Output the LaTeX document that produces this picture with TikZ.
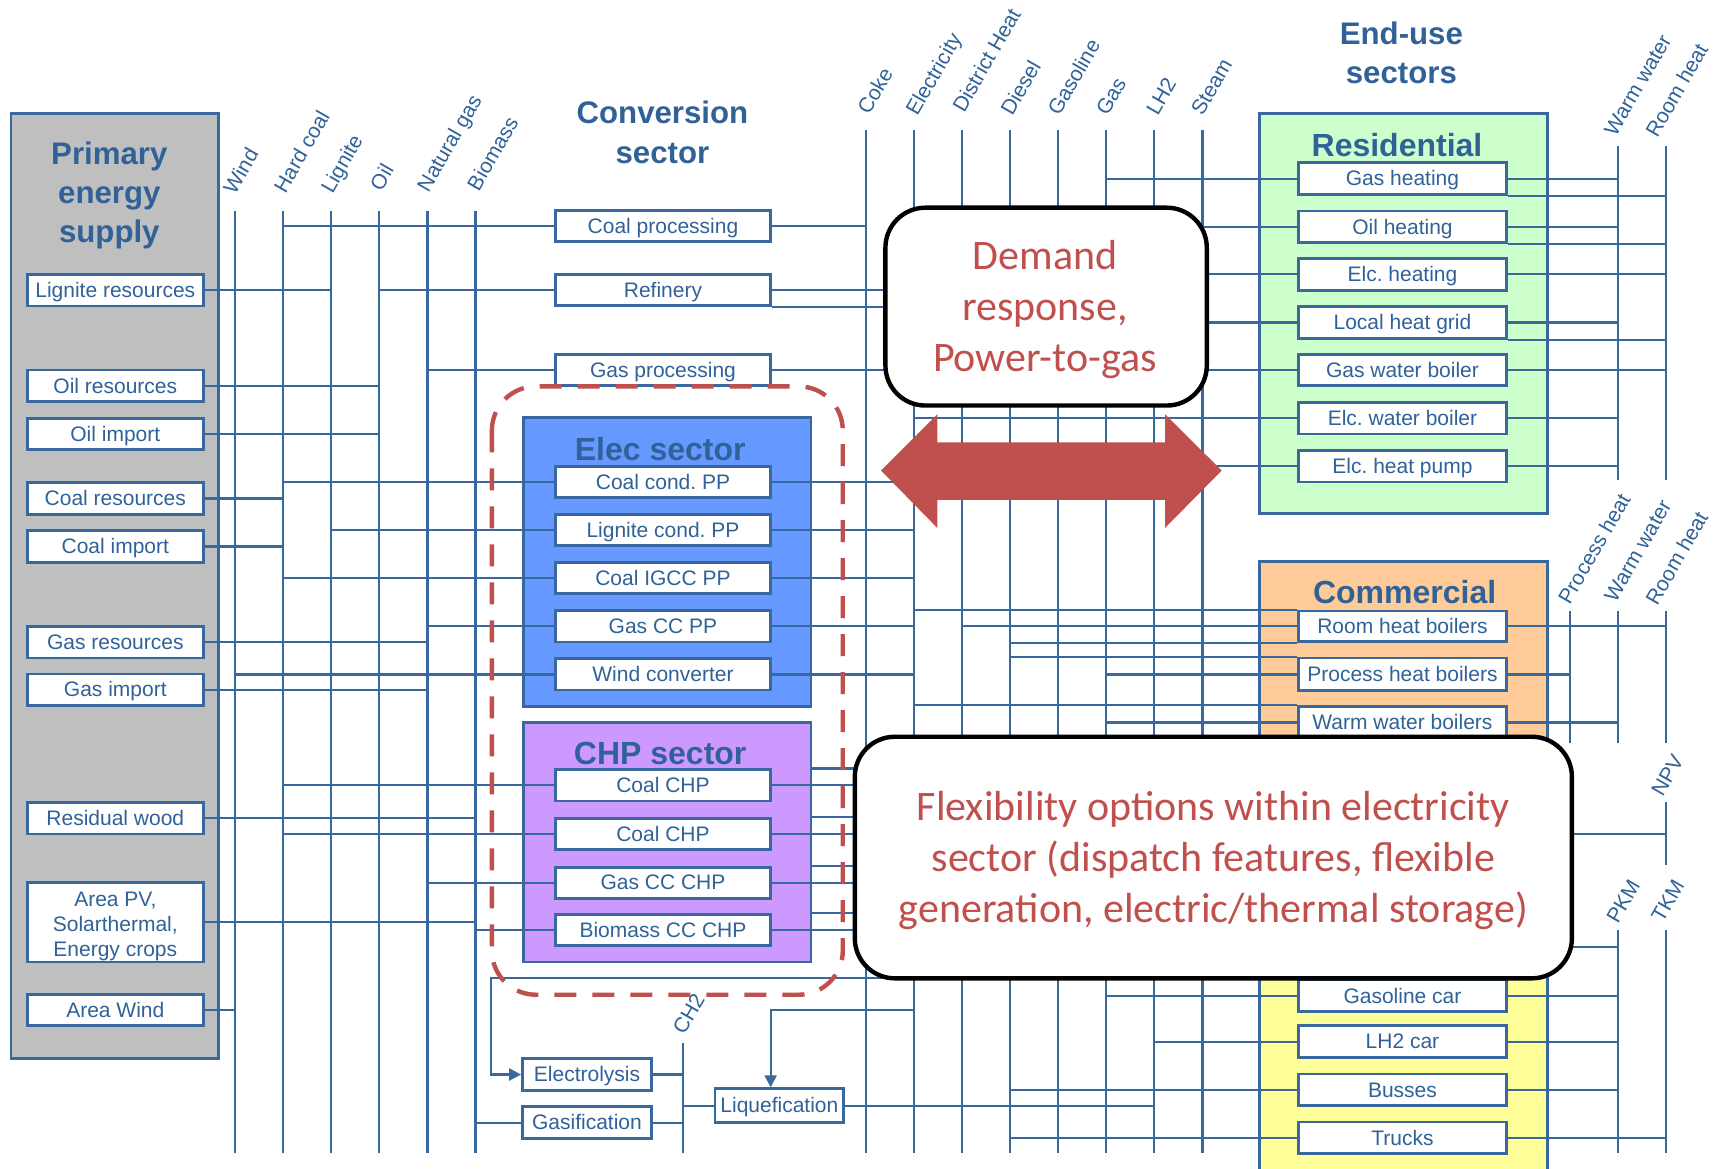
\documentclass[tikz,border=0pt]{standalone}
\usepackage{fontspec}
\setmainfont{Liberation Sans}
\newfontfamily\calib{Carlito}
\usetikzlibrary{arrows.meta,fit}
\definecolor{lblue}{RGB}{56,104,158}
\definecolor{tblue}{RGB}{48,98,152}
\definecolor{grayfill}{RGB}{191,191,191}
\definecolor{elecfill}{RGB}{102,153,255}
\definecolor{chpfill}{RGB}{204,153,255}
\definecolor{resfill}{RGB}{204,255,204}
\definecolor{comfill}{RGB}{255,204,153}
\definecolor{trafill}{RGB}{255,255,153}
\definecolor{callred}{RGB}{192,80,77}
\newcommand\pxu{0.54656pt}
\newcommand\lblfont{\fontsize{10.5}{12.6}\selectfont}
\newcommand\ttlfont{\fontsize{15.6}{19.6}\selectfont\bfseries}
\newcommand\sectfont{\fontsize{16}{19}\selectfont\bfseries}
\newcommand\calltfont{\calib\fontsize{21}{25.5}\selectfont}
\pgfdeclarelayer{bg}\pgfdeclarelayer{ln}\pgfdeclarelayer{fg}
\pgfsetlayers{bg,ln,main,fg}
\begin{document}
\begin{tikzpicture}[x=0.54656pt,y=-0.54656pt,
  ln/.style={draw=lblue,line width=1.1pt},
  region/.style={draw=lblue,line width=1.4pt,inner sep=0pt},
  bx0/.style={draw=lblue,line width=1.4pt,fill=white,text=tblue,font=\lblfont,inner sep=0pt,align=center},
  bx/.style={bx0,text height=0.8em,text depth=0.08em},
  cbox/.style={bx,minimum width=197*\pxu,minimum height=28.5*\pxu},
  pbox/.style={bx,minimum width=161*\pxu,minimum height=29*\pxu},
  ebox/.style={bx,minimum width=190*\pxu,minimum height=29*\pxu},
  sbox/.style={bx,minimum width=118*\pxu,minimum height=29*\pxu},
  ttl/.style={text=tblue,font=\ttlfont,align=center,inner sep=0pt},
  sttl/.style={text=tblue,font=\sectfont,inner sep=0pt},
  rlbl/.style={text=tblue,font=\lblfont,rotate=60,anchor=base west,inner sep=0pt},
  callout/.style={draw=black,line width=2.2pt,fill=white,rounded corners=20pt,inner sep=0pt},
  calltxt/.style={text=callred,font=\calltfont,align=center,inner sep=0pt},
  arr/.style={ln,-{Triangle[length=6pt,width=6pt]}}
]
\useasboundingbox (0,0) rectangle (1568,1069);

% ---------- regions ----------
\begin{pgfonlayer}{bg}
\node[region,fill=grayfill,fit={(10,104)(200,968)}] (primR) {};
\node[region,fill=elecfill,fit={(479,382)(742,646)}] (elecR) {};
\node[region,fill=chpfill,fit={(479,661)(742,880)}] (chpR) {};
\node[region,fill=resfill,fit={(1152,104)(1416,470)}] (resR) {};
\node[region,fill=comfill,fit={(1152,514)(1416,700)}] (comR) {};
\node[region,fill=trafill,fit={(1152,710)(1416,1095)}] (traR) {};
\end{pgfonlayer}

% ---------- titles ----------
\node[ttl] (tPrim) at (100,179) {Primary\\energy\\supply};
\node[ttl] (tConv) at (606,121) {Conversion\\sector};
\node[ttl] (tEnd) at (1282,48) {End-use\\sectors};
\node[sttl] (tElec) at (604,411) {Elec sector};
\node[sttl] (tCHP) at (604,689) {CHP sector};
\node[sttl] (tRes) at (1278,133) {Residential};
\node[sttl] (tCom) at (1285,542) {Commercial};

% ---------- boxes ----------
\node[pbox] (pLig) at (105.5,265.5) {Lignite resources};
\node[pbox] (pOilR) at (105.5,353) {Oil resources};
\node[pbox] (pOilI) at (105.5,397) {Oil import};
\node[pbox] (pCoalR) at (105.5,456) {Coal resources};
\node[pbox] (pCoalI) at (105.5,500) {Coal import};
\node[pbox] (pGasR) at (105.5,587.5) {Gas resources};
\node[pbox] (pGasI) at (105.5,631) {Gas import};
\node[pbox] (pWood) at (105.5,748.5) {Residual wood};
\node[bx0,minimum width=161*\pxu,minimum height=73*\pxu] (pPV) at (105.5,843.5) {};
\node[text=tblue,font=\lblfont,align=center,inner sep=0pt] (pPVt) at (105.5,847.5) {Area PV,\\Solarthermal,\\Energy crops};
\node[pbox] (pWindA) at (105.5,924) {Area Wind};

\node[cbox] (cCoal) at (606.5,207) {Coal processing};
\node[cbox] (cRef) at (606.5,265.5) {Refinery};
\node[cbox] (cGasP) at (606.5,338.5) {Gas processing};

\node[cbox] (eCoal) at (606.5,441) {Coal cond.\ PP};
\node[cbox] (eLig) at (606.5,485) {Lignite cond.\ PP};
\node[cbox] (eIGCC) at (606.5,529) {Coal IGCC PP};
\node[cbox] (eGas) at (606.5,573) {Gas CC PP};
\node[cbox] (eWind) at (606.5,617) {Wind converter};

\node[cbox] (hCoalA) at (606.5,718.5) {Coal CHP};
\node[cbox] (hCoalB) at (606.5,763) {Coal CHP};
\node[cbox] (hGas) at (606.5,807.5) {Gas CC CHP};
\node[cbox] (hBio) at (606.5,851) {Biomass CC CHP};

\node[sbox] (lyse) at (537,983) {Electrolysis};
\node[sbox] (gasif) at (537,1027) {Gasification};
\node[sbox,minimum height=31*\pxu] (liq) at (713,1011.5) {Liquefication};

\node[ebox] (rGasH) at (1283,163.5) {Gas heating};
\node[ebox] (rOilH) at (1283,207.5) {Oil heating};
\node[ebox] (rElcH) at (1283,251) {Elc.\ heating};
\node[ebox] (rLHG) at (1283,295) {Local heat grid};
\node[ebox] (rGWB) at (1283,338.5) {Gas water boiler};
\node[ebox] (rEWB) at (1283,382.5) {Elc.\ water boiler};
\node[ebox] (rEHP) at (1283,426.5) {Elc.\ heat pump};

\node[ebox,minimum height=28*\pxu] (mRHB) at (1283,573) {Room heat boilers};
\node[ebox,minimum height=30*\pxu] (mPHB) at (1283,617) {Process heat boilers};
\node[ebox] (mWWB) at (1283,661) {Warm water boilers};

\node[ebox] (tGas) at (1283,911) {Gasoline car};
\node[ebox] (tLH2) at (1283,953) {LH2 car};
\node[ebox] (tBus) at (1283,997) {Busses};
\node[ebox] (tTruck) at (1283,1041) {Trucks};

% ---------- bus coordinates ----------
\coordinate (bWind) at (215,193);
\coordinate (bHard) at (259,193);
\coordinate (bLig) at (303,193);
\coordinate (bOil) at (347,193);
\coordinate (bGas) at (391,193);
\coordinate (bBio) at (435,193);
\coordinate (bCoke) at (792,119);
\coordinate (bElec) at (836,119);
\coordinate (bDH) at (880,119);
\coordinate (bDiesel) at (924,119);
\coordinate (bGasoline) at (968,119);
\coordinate (bGasM) at (1012,119);
\coordinate (bLH2) at (1056,119);
\coordinate (bSteam) at (1100,119);
\coordinate (bCH2) at (625,954);
\coordinate (vPKM) at (1480,851);
\coordinate (vTKM) at (1524,851);
\coordinate (busBot) at (0,1055);
\coordinate (rWW) at (1480,134);
\coordinate (rRH) at (1524,134);
\coordinate (rBot) at (0,439);
\coordinate (mPH) at (1436,559);
\coordinate (mWW) at (1480,559);
\coordinate (mRH) at (1524,559);
\coordinate (mBot) at (0,680);
\coordinate (vNPV) at (1524,734);
\coordinate (npvBot) at (0,791);
\coordinate (hidDiesel) at (1378,866);
\coordinate (hidNPV) at (1378,763);
\coordinate (elyTurn) at (449,895);
\coordinate (liqTurn) at (705,924);

% ---------- bus labels ----------
\node[rlbl] (lWind) at (215,179) {Wind};
\node[rlbl] (lHard) at (261,178) {Hard coal};
\node[rlbl] (lLig) at (304,178) {Lignite};
\node[rlbl] (lOil) at (349,176) {Oil};
\node[rlbl] (lNG) at (392,177) {Natural gas};
\node[rlbl] (lBio) at (438,176) {Biomass};
\node[rlbl] (lCoke) at (795,106) {Coke};
\node[rlbl] (lElec) at (839,107) {Electricity};
\node[rlbl] (lDH) at (882,104) {District Heat};
\node[rlbl] (lDiesel) at (926,107) {Diesel};
\node[rlbl] (lGasoline) at (969,107) {Gasoline};
\node[rlbl] (lGas) at (1013,107) {Gas};
\node[rlbl] (lLH2) at (1059,107) {LH2};
\node[rlbl] (lSteam) at (1100,107) {Steam};
\node[rlbl] (lRWW) at (1478,126) {Warm water};
\node[rlbl] (lRRH) at (1516,127) {Room heat};
\node[rlbl] (lMPH) at (1436,554) {Process heat};
\node[rlbl] (lMWW) at (1478,552) {Warm water};
\node[rlbl] (lMRH) at (1516,555) {Room heat};
\node[rlbl] (lNPV) at (1521,730) {NPV};
\node[rlbl] (lPKM) at (1480,846) {PKM};
\node[rlbl] (lTKM) at (1521,845) {TKM};
\node[rlbl] (lCH2) at (626,948) {CH2};

% ---------- connectors ----------
\begin{pgfonlayer}{ln}
\foreach \b in {bWind,bHard,bLig,bOil,bGas,bBio,bCoke,bElec,bDH,bDiesel,bGasoline,bGasM,bLH2,bSteam,bCH2,vPKM,vTKM}
  \draw[ln] (\b) -- (\b |- busBot);
\foreach \b in {rWW,rRH} \draw[ln] (\b) -- (\b |- rBot);
\foreach \b in {mPH,mWW,mRH} \draw[ln] (\b) -- (\b |- mBot);
\draw[ln] (vNPV) -- (vNPV |- npvBot);

\foreach \n/\b in {pLig/bLig,pOilR/bOil,pOilI/bOil,pCoalR/bHard,pCoalI/bHard,pGasR/bGas,pGasI/bGas,pWood/bBio,pPV/bBio,pWindA/bWind}
  \draw[ln] (\n.east) -- (\n.east -| \b);

\foreach \n/\b in {cCoal/bHard,cRef/bOil,cGasP/bGas,eCoal/bHard,eLig/bLig,eIGCC/bHard,eGas/bGas,eWind/bWind,hCoalA/bHard,hCoalB/bHard,hGas/bGas,hBio/bBio,gasif/bBio}
  \draw[ln] (\n.west -| \b) -- (\n.west);

\draw[ln] (cCoal.east) -- (cCoal.east -| bCoke);
\draw[ln] (cRef.east) -- (cRef.east -| bDiesel);
\draw[ln] (cRef.south east) -- (cRef.south east -| bGasoline);
\draw[ln] (cGasP.east) -- (cGasP.east -| bGasM);
\foreach \n in {eCoal,eLig,eIGCC,eGas,eWind,hCoalA,hCoalB,hGas,hBio}
  \draw[ln] (\n.east) -- (\n.east -| bElec);
\foreach \n in {hCoalA,hCoalB,hGas,hBio}
  \draw[ln] (chpR.east |- \n.north) -- (\n.north -| bDH);

\draw[arr] (elyTurn -| bElec) -- (elyTurn) |- (lyse.west);
\draw[arr] (liqTurn -| bElec) -- (liqTurn) -- (liqTurn |- liq.north);
\draw[ln] (lyse.east) -- (lyse.east -| bCH2);
\draw[ln] (gasif.east) -- (gasif.east -| bCH2);
\draw[ln] (liq.west -| bCH2) -- (liq.west);
\draw[ln] (liq.east) -- (liq.east -| bLH2);

\foreach \n/\b in {rGasH/bGasM,rOilH/bDiesel,rElcH/bElec,rLHG/bDH,rGWB/bGasM,rEWB/bElec,rEHP/bElec}
  \draw[ln] (\n.west -| \b) -- (\n.west);
\foreach \n/\b in {rGasH/rWW,rOilH/rWW,rElcH/rRH,rLHG/rWW,rGWB/rRH,rEWB/rWW,rEHP/rWW}
  \draw[ln] (\n.east) -- (\n.east -| \b);
\foreach \n in {rGasH,rOilH,rLHG}
  \draw[ln] (\n.south east) -- (\n.south east -| rRH);

\draw[ln] (mRHB.north west -| bElec) -- (mRHB.north west);
\draw[ln] (mRHB.west -| bDH) -- (mRHB.west);
\draw[ln] (mRHB.south west -| bDiesel) -- (mRHB.south west);
\draw[ln] (mPHB.north west -| bDiesel) -- (mPHB.north west);
\draw[ln] (mPHB.west -| bGasM) -- (mPHB.west);
\draw[ln] (mWWB.north west -| bElec) -- (mWWB.north west);
\draw[ln] (mWWB.west -| bGasM) -- (mWWB.west);
\draw[ln] (mRHB.east) -- (mRHB.east -| mRH);
\draw[ln] (mPHB.east) -- (mPHB.east -| mPH);
\draw[ln] (mWWB.east) -- (mWWB.east -| mWW);

\draw[ln] (tGas.west -| bGasM) -- (tGas.west);
\draw[ln] (tLH2.west -| bLH2) -- (tLH2.west);
\draw[ln] (tBus.west -| bDiesel) -- (tBus.west);
\draw[ln] (tTruck.west -| bDiesel) -- (tTruck.west);
\foreach \n in {tGas,tLH2,tBus} \draw[ln] (\n.east) -- (\n.east -| vPKM);
\draw[ln] (tTruck.east) -- (tTruck.east -| vTKM);
\draw[ln] (hidDiesel) -- (hidDiesel -| vPKM);
\draw[ln] (hidNPV) -- (hidNPV -| vNPV);
\end{pgfonlayer}

% ---------- overlays ----------
\begin{pgfonlayer}{fg}
\draw[callred,line width=2.2pt,dash pattern=on 11pt off 8pt,rounded corners=22pt] (450,353.5) rectangle (771,910);
\node[callout,fit={(810,190)(1104,371)}] (dr) {};
\node[calltxt] (drText) at (956,283.5) {Demand\\response,\\Power-to-gas};
\fill[callred] (806,430.5) -- (857.5,379) -- (857.5,404.7) -- (1065.8,404.7) -- (1065.8,379)
  -- (1117.6,430.5) -- (1065.8,483) -- (1065.8,457.4) -- (857.5,457.4) -- (857.5,483) -- cycle;
\node[callout,fit={(782,674)(1438,895)}] (flex) {};
\node[calltxt] (flexText) at (1110,787) {Flexibility options within electricity\\sector (dispatch features, flexible\\generation, electric/thermal storage)};
\end{pgfonlayer}
\end{tikzpicture}
\end{document}
